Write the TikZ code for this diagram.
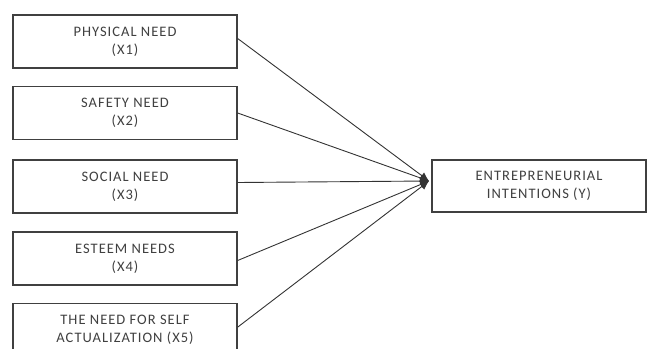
\documentclass[tikz,border=0pt]{standalone}
\usepackage{fontspec}
\setmainfont{Carlito}[LetterSpace=7]
\usetikzlibrary{arrows.meta}
\begin{document}
\begin{tikzpicture}[x=1pt,y=-1pt,
  varbox/.style={draw=black!75, line width=1.3pt, fill=white, minimum width=224pt, minimum height=53pt, align=center, inner sep=0pt, text=black!75, font=\fontsize{14.5pt}{18pt}\selectfont},
  link/.style={draw=black!80, line width=0.9pt, -{Latex[length=9pt,width=8pt]}}]
\useasboundingbox (0,0) rectangle (647,348);
\node[varbox] (x1) at (125,41.5) {PHYSICAL NEED\\(X1)};
\node[varbox] (x2) at (125,113) {SAFETY NEED\\(X2)};
\node[varbox] (x3) at (125,186.5) {SOCIAL NEED\\(X3)};
\node[varbox] (x4) at (125,258.5) {ESTEEM NEEDS\\(X4)};
\node[varbox, anchor=north] (x5) at (125,303) {THE NEED FOR SELF\\ACTUALIZATION (X5)};
\node[varbox, minimum width=214pt, minimum height=52pt] (y) at (539,186) {ENTREPRENEURIAL\\INTENTIONS (Y)};
\coordinate (tip) at (429,181);
\draw[link] (x1.east) ++(0,-3) -- (tip);
\draw[link] (x2.east) -- (tip);
\draw[link] (x3.east) ++(0,-4) -- (tip);
\draw[link] (x4.east) ++(0,2) -- (tip);
\draw[link] (x5.east) ++(0,-3) -- (tip);
\end{tikzpicture}
\end{document}
